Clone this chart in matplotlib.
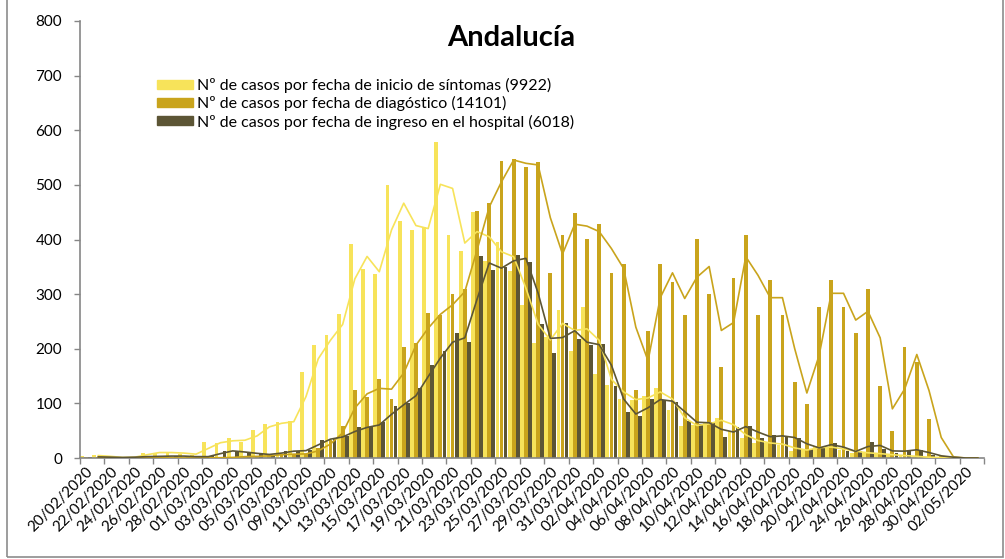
import numpy as np
import pandas as pd
import matplotlib
matplotlib.use("Agg")
import matplotlib.pyplot as plt
import matplotlib.transforms as mtransforms
from matplotlib.patches import Patch, Rectangle

plt.rcParams['font.family'] = ['Lato', 'DejaVu Sans']

# dias del 20/02/2020 al 03/05/2020
fechas = pd.date_range('2020-02-20', '2020-05-03', freq='D')

# Nº de casos por fecha de inicio de sintomas
sintomas = [4, 5, 1, 1, 2, 10, 10, 10, 8, 6,
            29, 27, 36, 29, 52, 62, 65, 68, 157, 206,
            225, 264, 392, 346, 336, 499, 434, 417, 423, 579,
            408, 379, 450, 360, 395, 342, 280, 210, 222, 271,
            196, 277, 154, 134, 108, 106, 114, 128, 88, 59,
            60, 65, 73, 49, 36, 28, 27, 24, 13, 16,
            22, 18, 15, 10, 9, 7, 5, 4, 2, 1,
            1, 0, 0, 0]

# Nº de casos por fecha de diagnostico
diagnostico = [2, 1, 0, 0, 0, 1, 0, 0, 0, 0,
               1, 0, 2, 3, 3, 5, 7, 7, 8, 18,
               33, 59, 124, 111, 144, 108, 203, 210, 265, 261,
               300, 309, 452, 467, 544, 547, 532, 541, 339, 408,
               448, 401, 428, 339, 355, 124, 232, 355, 323, 261,
               401, 300, 167, 329, 408, 261, 326, 261, 140, 98,
               277, 326, 277, 228, 309, 131, 49, 203, 176, 71,
               4, 0, 0, 0]

# Nº de casos por fecha de ingreso en el hospital
hospital = [2, 2, 1, 1, 2, 3, 3, 4, 3, 2,
            3, 13, 13, 9, 8, 5, 13, 12, 15, 33,
            36, 41, 56, 56, 65, 95, 100, 128, 170, 196,
            228, 212, 369, 345, 350, 372, 359, 245, 193, 248,
            218, 206, 209, 131, 85, 76, 108, 106, 102, 68,
            63, 66, 39, 56, 59, 36, 42, 39, 36, 16,
            21, 28, 12, 12, 30, 16, 10, 15, 15, 5,
            3, 0, 0, 0]

etiquetas = ['Nº de casos por fecha de inicio de síntomas (9922)',
             'Nº de casos por fecha de diagóstico (14101)',
             'Nº de casos por fecha de ingreso en el hospital (6018)']
colores = ['#F7E35A', '#C9A41C', '#5C5535']

series = [sintomas, diagnostico, hospital]
n = len(fechas)
x = np.arange(n)

fig = plt.figure(figsize=(10.05, 5.59), dpi=100)
ax = fig.add_axes([80 / 1005, 101 / 559, 904 / 1005, 437 / 559])

ancho = 0.31
offsets = [-0.33, 0.0, 0.33]
for vals, col, off in zip(series, colores, offsets):
    ax.bar(x + off, vals, width=ancho, color=col, linewidth=0, zorder=2)

# lineas de media movil (2 periodos)
for vals, col in zip(series, colores):
    v = np.array(vals, dtype=float)
    mm = (v[1:] + v[:-1]) / 2
    ax.plot(x[1:], mm, color=col, lw=1.2, zorder=3)

ax.set_xlim(-0.5, n - 0.5)
ax.set_ylim(0, 800)
ax.set_yticks(np.arange(0, 801, 100))
ax.tick_params(axis='y', length=4, width=1, color='#868686', pad=9, labelsize=11)

ax.set_xticks(np.arange(-0.5, n, 2))
ax.set_xticklabels([])
ax.tick_params(axis='x', which='major', length=4, width=1, color='#868686')
ax.set_xticks(x[::2], minor=True)
ax.set_xticklabels([d.strftime('%d/%m/%Y') for d in fechas[::2]], minor=True,
                   rotation=45, ha='right', va='center', rotation_mode='anchor', fontsize=11)
ax.tick_params(axis='x', which='minor', length=0, pad=8)
desplaza = mtransforms.ScaledTranslation(5 / 100, 0, fig.dpi_scale_trans)
for lab in ax.get_xticklabels(minor=True):
    lab.set_transform(lab.get_transform() + desplaza)

for s in ['top', 'right']:
    ax.spines[s].set_visible(False)
for s in ['left', 'bottom']:
    ax.spines[s].set_color('#868686')
    ax.spines[s].set_linewidth(1.2)

fig.text(511 / 1005, 1 - 38 / 559, 'Andalucía', ha='center', va='center',
         fontsize=21, fontweight='bold')

handles = [Patch(color=c) for c in colores]
ax.legend(handles, etiquetas, loc='upper left', bbox_to_anchor=(157 / 1005, 1 - 78 / 559),
          bbox_transform=fig.transFigure, frameon=False, fontsize=11.5,
          handlelength=2.25, handleheight=0.5, handletextpad=0.25,
          labelspacing=0.2, borderpad=0, borderaxespad=0)

# borde del grafico
fig.patches.append(Rectangle((7 / 1005, 2 / 559), 996 / 1005, 1.1, transform=fig.transFigure,
                             fill=False, edgecolor='#8c8c8c', lw=1.2))

fig.savefig('out.png', dpi=100)
